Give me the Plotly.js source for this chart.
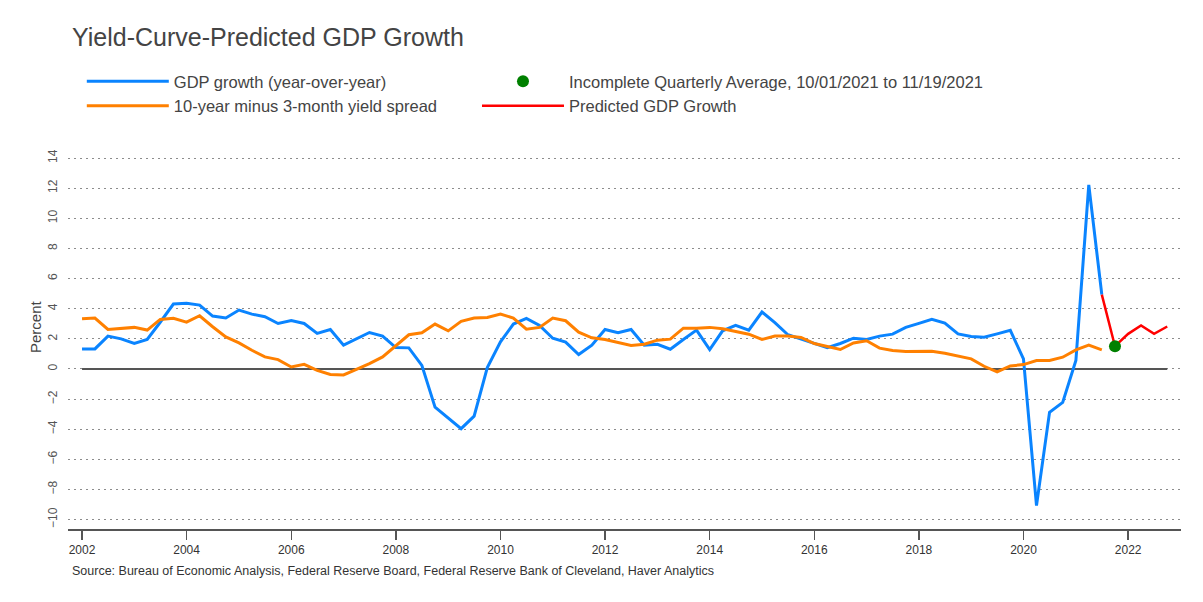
<!DOCTYPE html>
<html>
<head>
<meta charset="utf-8">
<script src="https://cdn.plot.ly/plotly-3.0.1.min.js"></script>
<style>
  html, body { margin: 0; padding: 0; background: #fff; }
  #chart { width: 1203px; height: 602px; }
  #edge { position: absolute; left: 3px; top: 0; width: 1px; height: 602px; background: #e6e6e6; }
</style>
</head>
<body>
<div id="edge"></div>
<div id="chart"></div>
<script>
// Quarterly series, first quarter = 2002 Q1
const startYear = 2002;

const gdpGrowth = [
  1.33, 1.33, 2.18, 2.00, 1.69, 1.96, 3.10, 4.31, 4.36, 4.24,
  3.51, 3.38, 3.91, 3.64, 3.47, 3.02, 3.22, 3.02, 2.36, 2.62,
  1.58, 2.00, 2.42, 2.18, 1.42, 1.40, 0.24, -2.53, -3.24, -3.96,
  -3.13, 0.09, 1.80, 2.98, 3.36, 2.89, 2.04, 1.78, 0.96, 1.58,
  2.62, 2.40, 2.62, 1.58, 1.64, 1.31, 1.96, 2.58, 1.29, 2.53,
  2.89, 2.58, 3.78, 3.07, 2.27, 2.00, 1.69, 1.42, 1.69, 2.04,
  1.96, 2.18, 2.31, 2.76, 3.03, 3.29, 3.04, 2.33, 2.16, 2.11,
  2.33, 2.56, 0.67, -9.07, -2.87, -2.22, 0.56, 12.22, 4.93
];

const yieldSpread = [
  3.33, 3.38, 2.62, 2.67, 2.76, 2.58, 3.29, 3.36, 3.11, 3.53,
  2.80, 2.13, 1.73, 1.24, 0.80, 0.62, 0.13, 0.31, -0.09, -0.36,
  -0.40, -0.02, 0.36, 0.80, 1.51, 2.27, 2.40, 2.98, 2.53, 3.16,
  3.38, 3.42, 3.64, 3.38, 2.64, 2.76, 3.38, 3.20, 2.44, 2.07,
  1.96, 1.76, 1.56, 1.64, 1.91, 1.98, 2.71, 2.71, 2.76, 2.67,
  2.49, 2.31, 1.96, 2.18, 2.18, 2.09, 1.69, 1.51, 1.29, 1.73,
  1.87, 1.38, 1.22, 1.16, 1.18, 1.18, 1.04, 0.87, 0.67, 0.18,
  -0.20, 0.20, 0.29, 0.56, 0.56, 0.78, 1.27, 1.58, 1.27
];

// Predicted path starts at last actual GDP quarter (2021 Q3)
const predictedStartIndex = 78;
const predictedGDP = [4.93, 1.51, 2.33, 2.89, 2.33, 2.82];

// Incomplete quarterly average (2021 Q4)
const incompleteIndex = 79;
const incompleteValue = [1.51];

const labels = {
  title: "Yield-Curve-Predicted GDP Growth",
  gdp: "GDP growth (year-over-year)",
  spread: "10-year minus 3-month yield spread",
  incomplete: "Incomplete Quarterly Average, 10/01/2021 to 11/19/2021",
  predicted: "Predicted GDP Growth",
  yTitle: "Percent",
  source: "Source: Bureau of Economic Analysis, Federal Reserve Board, Federal Reserve Bank of Cleveland, Haver Analytics"
};

function quarterDate(i) {
  const y = startYear + Math.floor(i / 4);
  const m = (i % 4) * 3 + 1;
  return y + "-" + String(m).padStart(2, "0") + "-01";
}
const dates = (n, off) => Array.from({length: n}, (_, k) => quarterDate(k + (off || 0)));

const nTotal = predictedStartIndex + predictedGDP.length;
const font = "Arial, 'Liberation Sans', sans-serif";

const traces = [
  { // zero reference line
    x: dates(nTotal), y: new Array(nTotal).fill(0),
    type: "scatter", mode: "lines",
    line: {color: "#555555", width: 2},
    showlegend: false, hoverinfo: "skip"
  },
  {
    x: dates(gdpGrowth.length), y: gdpGrowth,
    name: labels.gdp, type: "scatter", mode: "lines",
    line: {color: "#0a84ff", width: 3},
    legend: "legend", legendrank: 1
  },
  {
    x: dates(yieldSpread.length), y: yieldSpread,
    name: labels.spread, type: "scatter", mode: "lines",
    line: {color: "#ff8000", width: 3},
    legend: "legend", legendrank: 2
  },
  {
    x: dates(predictedGDP.length, predictedStartIndex), y: predictedGDP,
    name: labels.predicted, type: "scatter", mode: "lines",
    line: {color: "#ff0000", width: 2.5},
    legend: "legend2", legendrank: 2
  },
  {
    x: dates(1, incompleteIndex), y: incompleteValue,
    name: labels.incomplete, type: "scatter", mode: "markers",
    marker: {color: "#008000", size: 12},
    legend: "legend2", legendrank: 1
  }
];

const legendBase = {
  orientation: "v", xref: "container", yref: "container",
  y: 0.8935, xanchor: "left", yanchor: "top",
  itemwidth: 82, traceorder: "normal",
  font: {size: 16.5, color: "#444444", family: font},
  bgcolor: "rgba(0,0,0,0)"
};

const layout = {
  width: 1203, height: 602,
  paper_bgcolor: "#ffffff", plot_bgcolor: "#ffffff",
  font: {family: font, color: "#444444", size: 12},
  margin: {l: 68, r: 22, t: 125, b: 73, autoexpand: false},
  title: {
    text: labels.title, xref: "container", xanchor: "left",
    yref: "container", yanchor: "middle",
    x: 72 / 1203, y: 1 - 37 / 602,
    font: {size: 25, color: "#444444", family: font}
  },
  showlegend: true,
  legend: Object.assign({}, legendBase, {x: 0.068}),
  legend2: Object.assign({}, legendBase, {x: 0.3965}),
  xaxis: {
    type: "date",
    range: ["2001-09-25", "2023-01-05"],
    tickformat: "%Y", dtick: "M24", tick0: "2002-01-01",
    showgrid: false, zeroline: false,
    showline: true, linecolor: "#555555", linewidth: 1.5,
    ticks: "outside", ticklen: 9, tickcolor: "#555555", tickwidth: 1.5,
    tickfont: {size: 12, color: "#333333", family: font}
  },
  yaxis: {
    range: [-10.62, 16.19],
    tickvals: [-10, -8, -6, -4, -2, 0, 2, 4, 6, 8, 10, 12, 14],
    tickangle: -90,
    showgrid: true, gridcolor: "#8c8c8c", gridwidth: 1, griddash: "1.5px,4.5px",
    zeroline: false, showline: false,
    ticks: "outside", ticklen: 5, tickcolor: "rgba(0,0,0,0)",
    tickfont: {size: 12, color: "#555555", family: font}
  },
  annotations: [
    {
      text: labels.yTitle, xref: "paper", yref: "paper",
      x: (35 - 68) / 1113, y: (529 - 327) / 404, xanchor: "center", yanchor: "middle",
      textangle: -90, showarrow: false,
      font: {size: 15, color: "#444444", family: font}
    },
    {
      text: labels.source, xref: "paper", yref: "paper",
      x: 2 / 1113, y: -42 / 404, xanchor: "left", yanchor: "middle",
      showarrow: false, font: {size: 12.5, color: "#333333", family: font}
    }
  ]
};

Plotly.newPlot("chart", traces, layout, {displayModeBar: false, staticPlot: true});
</script>
</body>
</html>
